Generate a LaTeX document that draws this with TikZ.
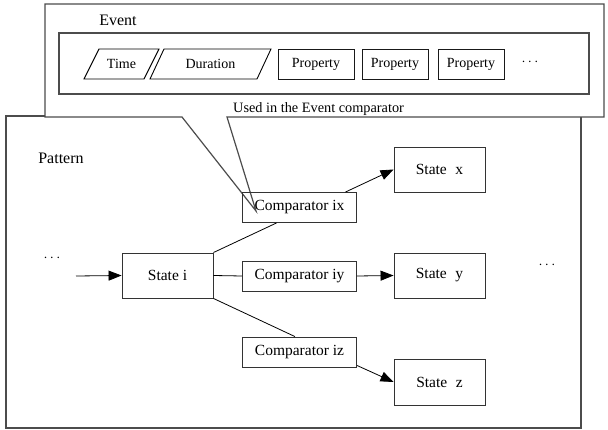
\documentclass[tikz,border=0pt]{standalone}
\usepackage{fontspec}
\setmainfont{Liberation Serif}
\usetikzlibrary{arrows.meta,calc}
\tikzset{
  outerbox/.style={draw=black!70, line width=1.2pt},
  ln/.style={draw=black, line width=0.8pt},
  fieldbox/.style={draw=black!90, line width=0.9pt, inner sep=0pt, minimum height=30pt, font=\fontsize{14}{16}\selectfont},
  statebox/.style={draw=black!80, line width=0.9pt, inner sep=0pt, minimum width=91pt, minimum height=45pt, font=\fontsize{15.5}{18}\selectfont},
  compbox/.style={draw=black!80, line width=0.9pt, inner sep=0pt, minimum width=114pt, minimum height=30pt, font=\fontsize{15.5}{18}\selectfont},
  lbl/.style={inner sep=0pt},
  arr/.style={ln, -{Triangle[length=13pt,width=10pt]}},
}
\begin{document}
\begin{tikzpicture}[x=1pt,y=-1pt]
\useasboundingbox (0,0) rectangle (608,430);
% Pattern frame
\draw[outerbox] (6,116) rectangle (581,428);
% Event callout
\draw[outerbox, fill=white] (45,4) -- (604,4) -- (604,117) -- (227,117) -- (256,211) -- (182,117) -- (45,117) -- cycle;
\node[lbl, font=\fontsize{16}{18}\selectfont] (evt) at (118,20) {Event};
\draw[outerbox] (59,33) rectangle (589,94);
% Time / Duration parallelograms
\draw[ln, line width=0.9pt] (84,79) -- (99,49) -- (159,49) -- (144,79) -- cycle;
\node[lbl, font=\fontsize{14}{16}\selectfont] (time) at (121.5,64) {Time};
\draw[ln, line width=0.9pt] (150,79) -- (164,49) -- (271,49) -- (257,79) -- cycle;
\node[lbl, font=\fontsize{14}{16}\selectfont] (dur) at (210.5,64) {Duration};
\node[fieldbox, minimum width=76pt] (p1) at (316,64) {Property};
\node[fieldbox, minimum width=66pt] (p2) at (395,64) {Property};
\node[fieldbox, minimum width=66pt] (p3) at (471,64) {Property};
\node[lbl, font=\fontsize{14}{16}\selectfont] (edots) at (530,62) {$\cdots$};
\node[lbl, anchor=west, font=\fontsize{14.3}{16}\selectfont] (used) at (233,109) {Used in the Event comparator};
% Pattern contents
\node[lbl, font=\fontsize{16}{18}\selectfont] (pat) at (61,158) {Pattern};
\node[lbl, font=\fontsize{14}{16}\selectfont] (ldots) at (52,258) {$\cdots$};
\node[lbl, font=\fontsize{14}{16}\selectfont] (rdots) at (547,265) {$\cdots$};
\node[statebox] (si) at (167.5,275.5) {State i};
\node[compbox] (cix) at (299.5,207.5) {Comparator ix};
\node[compbox] (ciy) at (299.5,276) {Comparator iy};
\node[compbox] (ciz) at (299.5,352) {Comparator iz};
\node[statebox] (sx) at (439.5,169.5) {State\hspace{0.55em}x};
\node[statebox] (sy) at (439.5,275.5) {State\hspace{0.55em}y};
\node[statebox, minimum height=46pt] (sz) at (439.5,382) {State\hspace{0.55em}z};
\coordinate (start) at (76,276);
% connectors
\draw[arr] (start) -- (si.west);
\draw[ln] (si.north east) -- ($(cix.south west)!0.30!(cix.south east)$);
\draw[ln] (si.east) -- (ciy.west);
\draw[ln] (si.south east) -- ($(ciz.north west)!0.46!(ciz.north east)$);
\draw[arr] ($(cix.north west)!0.9!(cix.north east)$) -- (sx.west);
\draw[arr] (ciy.east) -- (sy.west);
\draw[arr] ($(ciz.south east)+(0,-2)$) -- (sz.west);
\end{tikzpicture}
\end{document}
